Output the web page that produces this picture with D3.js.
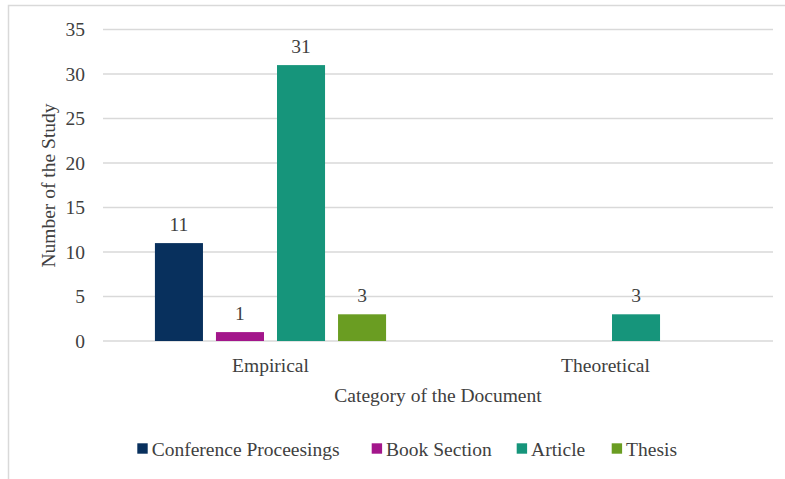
<!DOCTYPE html>
<html>
<head>
<meta charset="utf-8">
<script src="https://cdn.jsdelivr.net/npm/d3@7"></script>
<style>
  html, body { margin: 0; padding: 0; background: #fff; }
  svg { display: block; }
  text { font-family: "Liberation Serif", "Times New Roman", serif; fill: #404040; }
</style>
</head>
<body>
<svg id="chart" width="785" height="479"></svg>
<script>
const categories = ["Empirical", "Theoretical"];
const seriesNames = ["Conference Proceesings", "Book Section", "Article", "Thesis"];
const seriesColors = ["#08305d", "#a3168b", "#16957b", "#6a9d22"];
const conferenceValues = [11, 0];
const bookSectionValues = [1, 0];
const articleValues = [31, 3];
const thesisValues = [3, 0];
const yTicks = [0, 5, 10, 15, 20, 25, 30, 35];
const xTitle = "Category of the Document";
const yTitle = "Number of the Study";

(function () {
const seriesValues = [conferenceValues, bookSectionValues, articleValues, thesisValues];
const FS = 19.5;

const svg = d3.select("#chart");

// outer frame
svg.append("rect").attr("x", 8.5).attr("y", 5.5).attr("width", 800).attr("height", 500)
  .attr("fill", "none").attr("stroke", "#d9d9d9").attr("stroke-width", 1.5);

const pL = 103, pR = 773, pT = 29.5, pB = 341;

const x0 = d3.scaleBand().domain(categories).range([pL, pR]).paddingInner(0.31).paddingOuter(0.155);
const x1 = d3.scaleBand().domain(seriesNames).range([0, x0.bandwidth()]).paddingInner(0.213).paddingOuter(0);
const y = d3.scaleLinear().domain([0, 35]).range([pB, pT]);

// gridlines
svg.append("g").selectAll("line").data(yTicks).join("line")
  .attr("x1", pL).attr("x2", pR)
  .attr("y1", d => y(d)).attr("y2", d => y(d))
  .attr("stroke", "#d9d9d9").attr("stroke-width", 1.5);

// y tick labels
svg.append("g").selectAll("text").data(yTicks).join("text")
  .attr("x", 85).attr("y", d => y(d) + 6.6)
  .attr("text-anchor", "end").attr("font-size", FS).text(d => d);

// bars
const flat = [];
categories.forEach((c, ci) => {
  seriesNames.forEach((s, si) => {
    flat.push({ cat: c, series: s, si, value: seriesValues[si][ci] });
  });
});
const barsData = flat.filter(d => d.value > 0);

svg.append("g").selectAll("rect").data(barsData).join("rect")
  .attr("x", d => x0(d.cat) + x1(d.series))
  .attr("width", x1.bandwidth())
  .attr("y", d => y(d.value))
  .attr("height", d => y(0) - y(d.value))
  .attr("fill", d => seriesColors[d.si]);

// value labels
svg.append("g").selectAll("text").data(barsData).join("text")
  .attr("x", d => x0(d.cat) + x1(d.series) + x1.bandwidth() / 2)
  .attr("y", d => y(d.value) - 12.5)
  .attr("text-anchor", "middle").attr("font-size", FS).text(d => d.value);

// category labels
svg.append("g").selectAll("text").data(categories).join("text")
  .attr("x", d => x0(d) + x0.bandwidth() / 2)
  .attr("y", 372)
  .attr("text-anchor", "middle").attr("font-size", FS).text(d => d);

// axis titles
svg.append("text").attr("x", 438).attr("y", 402)
  .attr("text-anchor", "middle").attr("font-size", FS).text(xTitle);

svg.append("text").attr("transform", "translate(55,185.5) rotate(-90)")
  .attr("text-anchor", "middle").attr("font-size", FS).text(yTitle);

// legend
const legendX = [137.3, 371.7, 516.7, 611.7];
const lg = svg.append("g");
seriesNames.forEach((s, i) => {
  lg.append("rect").attr("x", legendX[i]).attr("y", 443.3).attr("width", 10.4).attr("height", 10.4)
    .attr("fill", seriesColors[i]);
  lg.append("text").attr("x", legendX[i] + 14.4).attr("y", 456)
    .attr("font-size", FS).text(s);
});
})();
</script>
</body>
</html>
